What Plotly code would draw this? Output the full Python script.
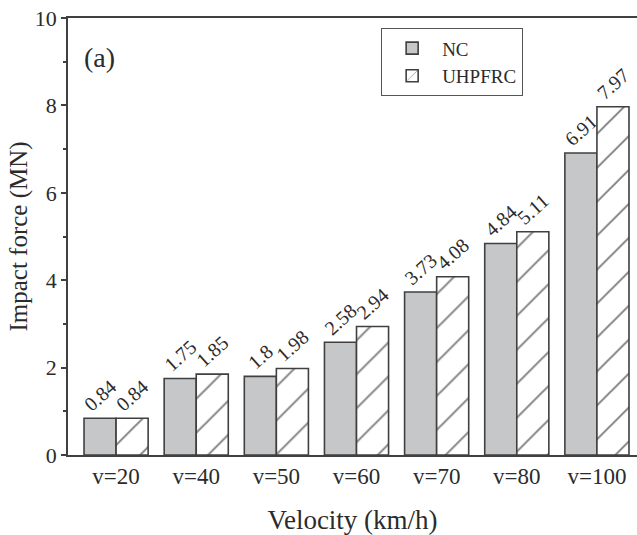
import plotly.graph_objects as go

categories = ["v=20", "v=40", "v=50", "v=60", "v=70", "v=80", "v=100"]
nc_values = [0.84, 1.75, 1.8, 2.58, 3.73, 4.84, 6.91]
uhpfrc_values = [0.84, 1.85, 1.98, 2.94, 4.08, 5.11, 7.97]
y_ticks = [0, 2, 4, 6, 8, 10]

FONT = "Liberation Serif"
LINE = "#404040"
TXT = "#2b2b2b"

fig = go.Figure()
fig.add_trace(go.Bar(
    name="NC", x=categories, y=nc_values,
    text=[str(v) for v in nc_values], textposition="outside", textangle=-42,
    textfont=dict(family=FONT, size=20, color=TXT),
    marker=dict(color="#c6c7c9", line=dict(color=LINE, width=1.6)),
    cliponaxis=False, constraintext="none",
))
fig.add_trace(go.Bar(
    name="UHPFRC", x=categories, y=uhpfrc_values,
    text=[str(v) for v in uhpfrc_values], textposition="outside", textangle=-42,
    textfont=dict(family=FONT, size=20, color=TXT),
    marker=dict(color="white", line=dict(color=LINE, width=1.6),
                pattern=dict(shape="/", fgcolor="#000000", bgcolor="white", size=24, solidity=0.08)),
    cliponaxis=False, constraintext="none",
))

fig.update_layout(
    width=637, height=535,
    margin=dict(l=68, r=0, t=18, b=80, autoexpand=False),
    plot_bgcolor="white", paper_bgcolor="white",
    barmode="group", bargap=0.2, bargroupgap=0,
    font=dict(family=FONT, color=TXT),
    showlegend=True,
    legend=dict(x=0.55, y=0.977, xanchor="left", yanchor="top",
                bgcolor="white", bordercolor="#555555", borderwidth=1.2,
                font=dict(family=FONT, size=19, color=TXT),
                tracegroupgap=0, itemwidth=50),
    annotations=[dict(text="(a)", x=0.025, y=0.91, xref="paper", yref="paper",
                      xanchor="left", yanchor="middle", showarrow=False,
                      font=dict(family=FONT, size=28, color=TXT))],
)
fig.update_xaxes(
    range=[-0.6, 6.5], showline=True, linecolor=LINE, linewidth=1.6, mirror=True,
    ticks="", showgrid=False, automargin=False,
    tickfont=dict(family=FONT, size=23, color=TXT),
    title=dict(text="Velocity (km/h)", font=dict(family=FONT, size=27, color=TXT), standoff=22),
)
fig.update_yaxes(
    range=[0, 10], tickvals=y_ticks, showline=True, linecolor=LINE, linewidth=1.6,
    ticks="outside", ticklen=5, tickcolor=LINE, tickwidth=1.5, showgrid=False, zeroline=False,
    automargin=False,
    minor=dict(ticks="outside", ticklen=3, dtick=1, tickcolor=LINE, tickwidth=1.5),
    tickfont=dict(family=FONT, size=22, color=TXT),
    title=dict(text="Impact force (MN)", font=dict(family=FONT, size=25, color=TXT), standoff=0),
)

fig.write_html("out.html", post_script="document.body.style.margin='0';",
               config={"displayModeBar": False})
